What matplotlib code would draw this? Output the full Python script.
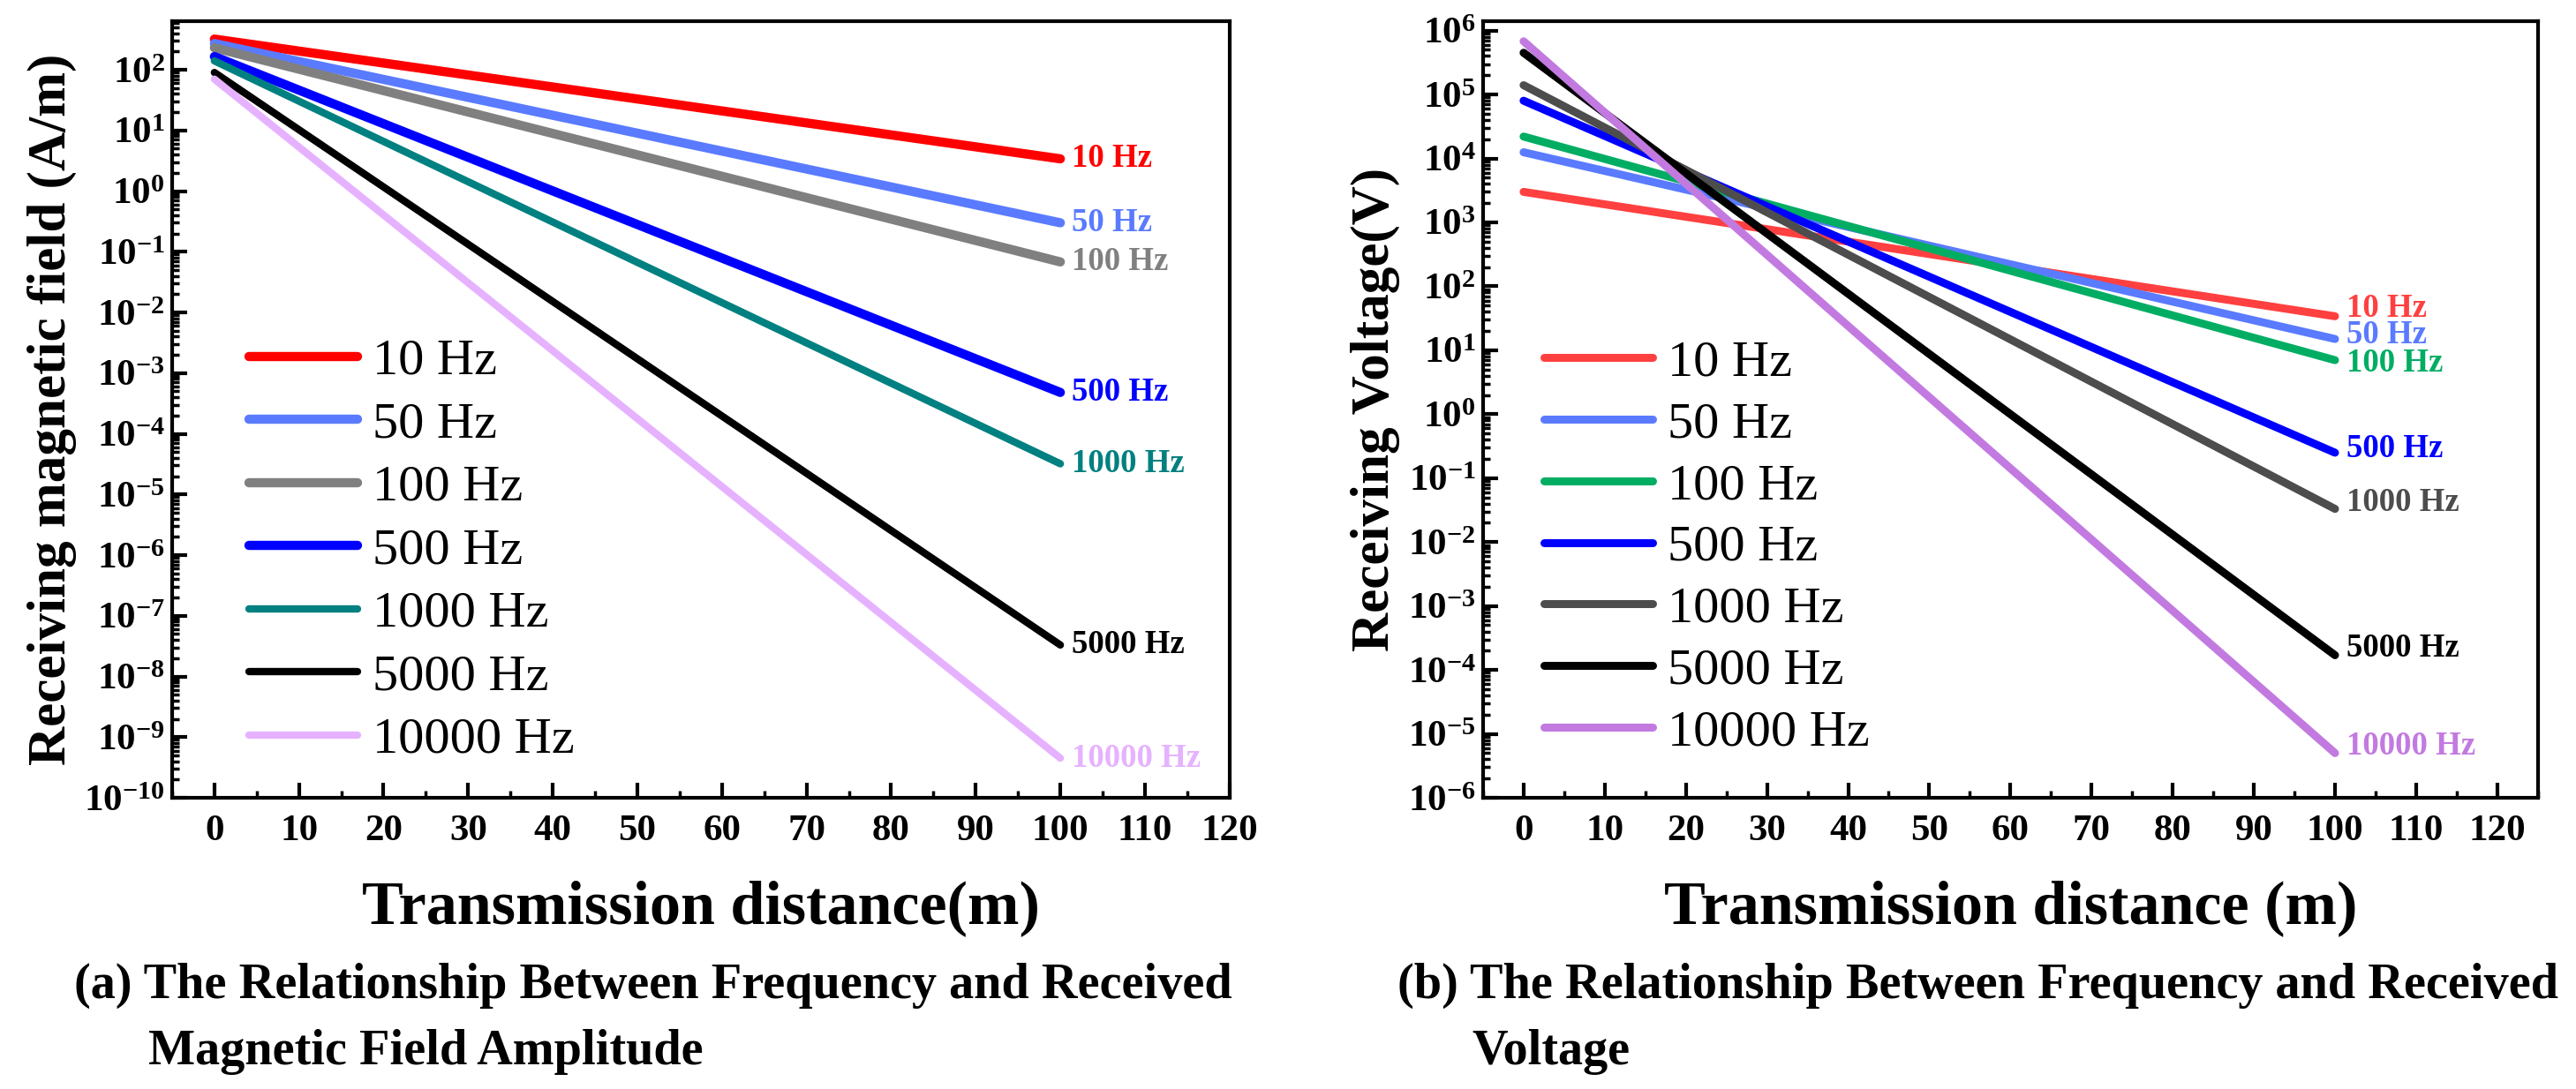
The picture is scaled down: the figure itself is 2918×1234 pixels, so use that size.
import numpy as np
import matplotlib
matplotlib.use("Agg")
import matplotlib.pyplot as plt
from matplotlib.ticker import LogLocator, MultipleLocator, NullFormatter

plt.rcParams['font.family'] = ['Liberation Serif', 'DejaVu Serif']
plt.rcParams['mathtext.fontset'] = 'custom'
plt.rcParams['mathtext.rm'] = 'Liberation Serif:bold'
plt.rcParams['mathtext.bf'] = 'Liberation Serif:bold'
plt.rcParams['axes.unicode_minus'] = False

# distance (m) at the start and end of every line
distance = [0, 100]
freq_labels = ['10 Hz', '50 Hz', '100 Hz', '500 Hz', '1000 Hz', '5000 Hz', '10000 Hz']

# (a) received magnetic field (A/m)
field_10 = [320, 3.4]
field_50 = [270, 0.30]
field_100 = [230, 0.068]
field_500 = [165, 4.8e-4]
field_1000 = [140, 3.2e-5]
field_5000 = [90, 3.3e-8]
field_10000 = [70, 4.5e-10]

# (b) received voltage (V)
volt_10 = [3.0e3, 34]
volt_50 = [1.25e4, 15]
volt_100 = [2.2e4, 7.0]
volt_500 = [8.0e4, 0.25]
volt_1000 = [1.4e5, 0.033]
volt_5000 = [4.5e5, 1.7e-4]
volt_10000 = [6.8e5, 5.0e-6]

field_series = [field_10, field_50, field_100, field_500, field_1000, field_5000, field_10000]
volt_series = [volt_10, volt_50, volt_100, volt_500, volt_1000, volt_5000, volt_10000]

colors_a = ['#FF0000', '#5A7BFF', '#808080', '#0000FF', '#008080', '#000000', '#E6B2FF']
colors_b = ['#FF4040', '#5A7BFF', '#00AD63', '#0000FF', '#4D4D4D', '#000000', '#C27AE0']
widths_a = [7.5, 7.5, 7.5, 7.5, 6, 6, 6]
widths_b = [6.5, 6.5, 6.5, 6.5, 6.5, 6.5, 6.5]
# small vertical nudges (points) of the end labels
nudge_a = [0, 0, 0, 0, 0, 0, 0]
nudge_b = [6.5, 3.5, -2.5, 3.5, 5.5, 5.5, 5.5]

fig = plt.figure(figsize=(29.18, 12.34), dpi=100)
ax1 = fig.add_axes([0.0668, 0.2674, 0.4105, 0.7131])
ax2 = fig.add_axes([0.5757, 0.2674, 0.4095, 0.7131])


def style_axes(ax, ylim, xmax):
    ax.set_yscale('log')
    ax.set_xlim(-5, xmax)
    ax.set_ylim(*ylim)
    ax.xaxis.set_major_locator(MultipleLocator(10))
    ax.xaxis.set_minor_locator(MultipleLocator(5))
    ax.yaxis.set_major_locator(LogLocator(base=10, numticks=40))
    ax.yaxis.set_minor_locator(LogLocator(base=10, subs=np.arange(2, 10), numticks=200))
    ax.yaxis.set_minor_formatter(NullFormatter())
    ax.set_xticks(np.arange(0, 121, 10))
    ax.tick_params(which='both', direction='in', top=False, right=False)
    ax.tick_params(which='major', length=12, width=3, labelsize=31)
    ax.tick_params(which='minor', length=6, width=2.5)
    ax.tick_params(axis='x', pad=14)
    ax.tick_params(axis='y', pad=6)
    for lab in ax.get_xticklabels() + ax.get_yticklabels():
        lab.set_fontweight('bold')
    for sp in ax.spines.values():
        sp.set_linewidth(3)


def draw_panel(ax, series, colors, widths, nudges):
    for vals, c, lw, lab, dy in zip(series, colors, widths, freq_labels, nudges):
        ax.plot(distance, vals, color=c, lw=lw, solid_capstyle='round', label=lab)
        ax.annotate(lab, xy=(distance[-1], vals[-1]), xytext=(9, dy),
                    textcoords='offset points', color=c, fontsize=26.5,
                    fontweight='bold', va='center', ha='left')


draw_panel(ax1, field_series, colors_a, widths_a, nudge_a)
draw_panel(ax2, volt_series, colors_b, widths_b, nudge_b)

style_axes(ax1, (1e-10, 6.3e2), 120)
style_axes(ax2, (1e-6, 1.4e6), 125)

for ax, anchor, sp in [(ax1, (0.073, 0.592), 0.32), (ax2, (0.058, 0.59), 0.29)]:
    ax.legend(loc='upper left', bbox_to_anchor=anchor, frameon=False, fontsize=42,
              handlelength=2.1, handletextpad=0.3, labelspacing=sp,
              borderpad=0, borderaxespad=0)

ax1.set_ylabel('Receiving magnetic field (A/m)', fontsize=44, fontweight='bold', labelpad=6)
ax2.set_ylabel('Receiving Voltage(V)', fontsize=44, fontweight='bold', labelpad=6)
ax1.set_xlabel('Transmission distance(m)', fontsize=50.5, fontweight='bold', labelpad=26)
ax2.set_xlabel('Transmission distance (m)', fontsize=50.5, fontweight='bold', labelpad=26)

fig.text(84 / 2918, 1 - 1117 / 1234,
         '(a) The Relationship Between Frequency and Received',
         fontsize=40.5, fontweight='bold', va='center', ha='left')
fig.text(168 / 2918, 1 - 1192 / 1234, 'Magnetic Field Amplitude',
         fontsize=40.5, fontweight='bold', va='center', ha='left')
fig.text(1583 / 2918, 1 - 1117 / 1234,
         '(b) The Relationship Between Frequency and Received',
         fontsize=40.5, fontweight='bold', va='center', ha='left')
fig.text(1667 / 2918, 1 - 1192 / 1234, 'Voltage',
         fontsize=40.5, fontweight='bold', va='center', ha='left')

fig.savefig('out.png', dpi=100)
